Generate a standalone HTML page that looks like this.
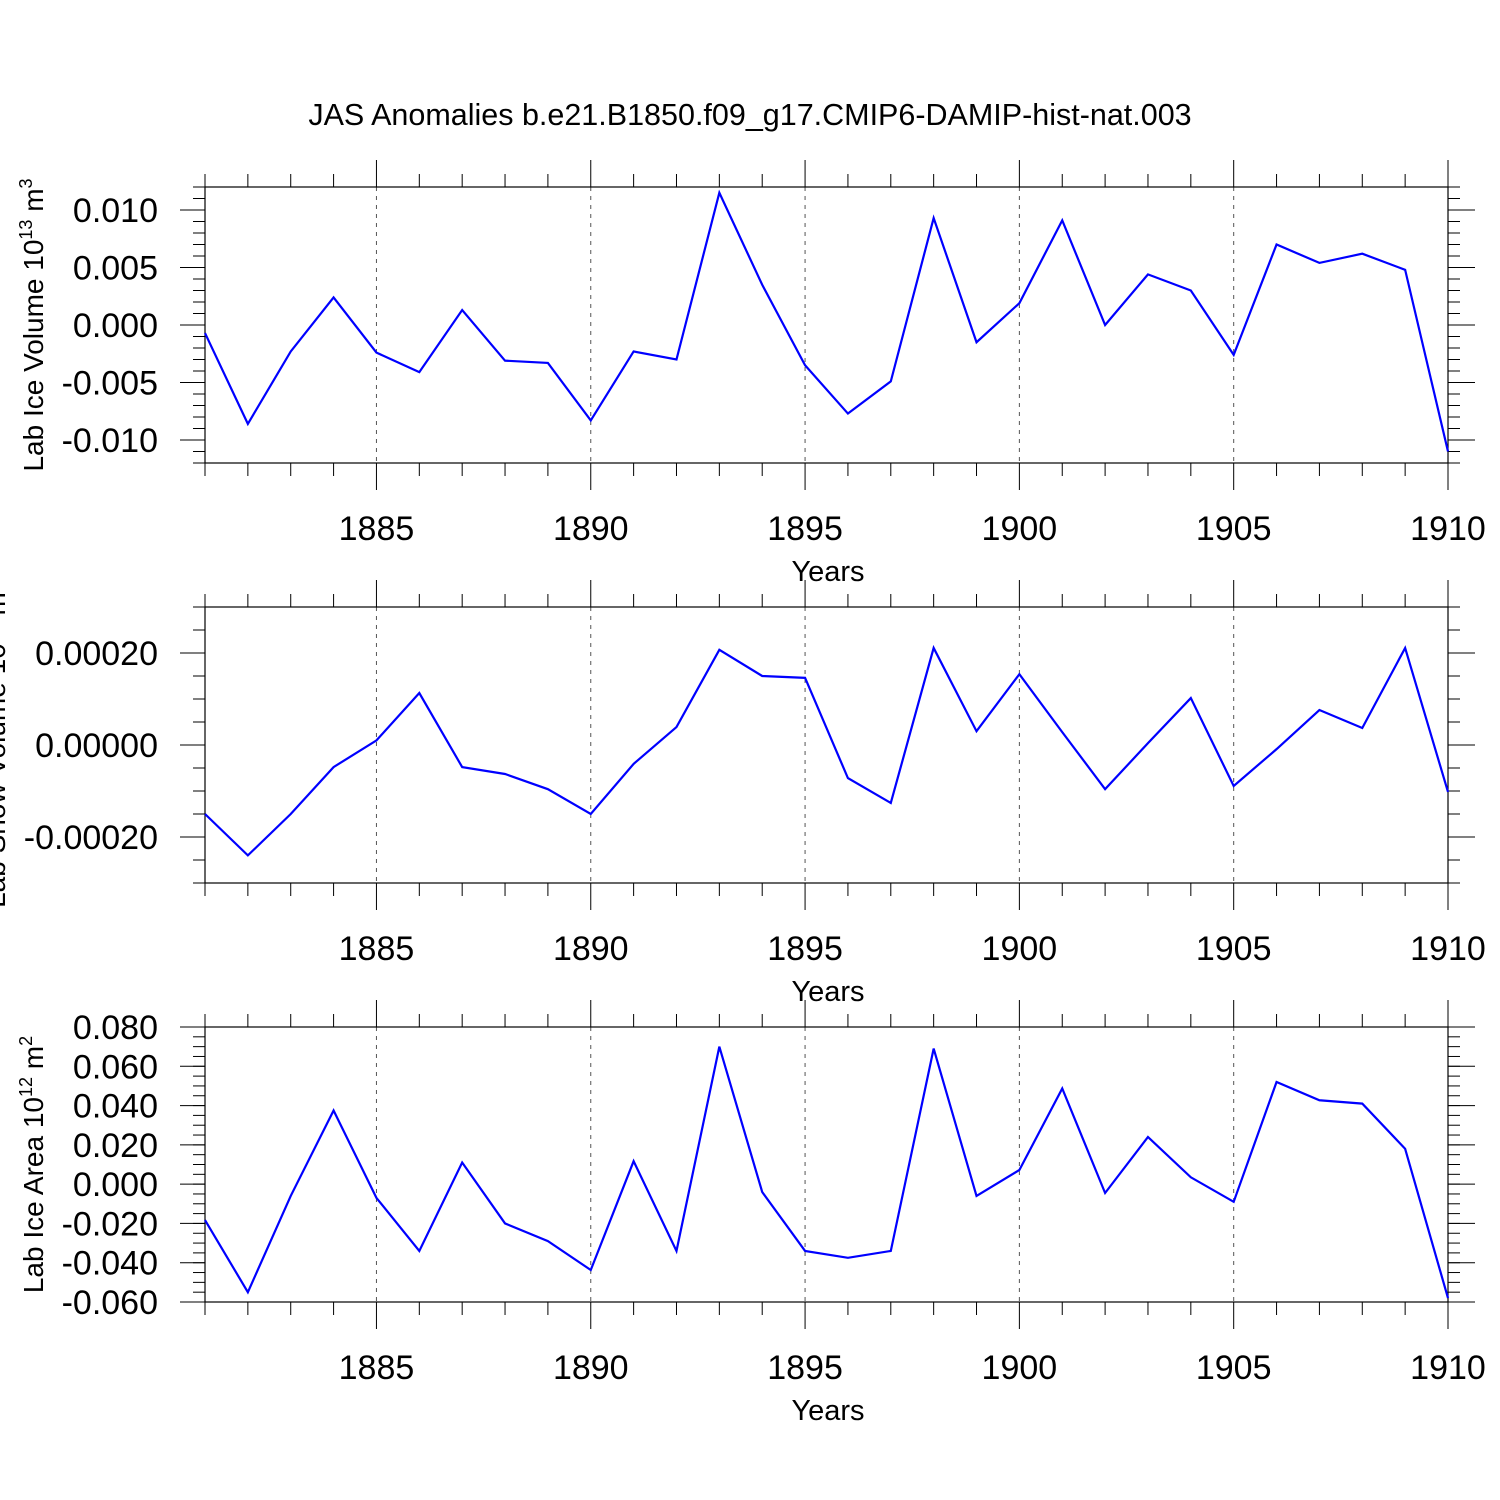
<!DOCTYPE html>
<html><head><meta charset="utf-8"><style>
body{margin:0;background:#fff;}
svg{display:block;font-family:"Liberation Sans",sans-serif;}
</style></head><body>
<svg id="c" width="1500" height="1500" xmlns="http://www.w3.org/2000/svg">
<text x="750" y="125" text-anchor="middle" font-size="30.5">JAS Anomalies b.e21.B1850.f09_g17.CMIP6-DAMIP-hist-nat.003</text>
</svg>
<script>
const years = [1881,1882,1883,1884,1885,1886,1887,1888,1889,1890,1891,1892,1893,1894,1895,1896,1897,1898,1899,1900,1901,1902,1903,1904,1905,1906,1907,1908,1909,1910];
const iceVolume = [-0.0007,-0.0086,-0.0023,0.0024,-0.0024,-0.0041,0.0013,-0.0031,-0.0033,-0.0083,-0.0023,-0.0030,0.0115,0.0035,-0.0035,-0.0077,-0.0049,0.0093,-0.0015,0.0019,0.0091,0.0000,0.0044,0.0030,-0.0026,0.0070,0.0054,0.0062,0.0048,-0.0110];
const snowVolume = [-0.00015,-0.00024,-0.00015,-0.000048,0.00001,0.000113,-0.000048,-0.000063,-0.000096,-0.00015,-0.000041,0.000039,0.000207,0.00015,0.000146,-0.000072,-0.000126,0.000211,0.00003,0.000154,0.000028,-0.000096,0.000004,0.000102,-0.000089,-0.000009,0.000076,0.000037,0.000211,-0.000102];
const iceArea = [-0.0183,-0.055,-0.006,0.0375,-0.007,-0.034,0.011,-0.020,-0.029,-0.0437,0.0117,-0.034,0.070,-0.004,-0.034,-0.0375,-0.034,0.069,-0.006,0.0072,0.0487,-0.0045,0.024,0.0035,-0.009,0.052,0.0427,0.041,0.018,-0.058];
const xTicks = [1885,1890,1895,1900,1905,1910];
const volTicks = [-0.010,-0.005,0.000,0.005,0.010];
const volLabels = ["-0.010","-0.005","0.000","0.005","0.010"];
const snowTicks = [-0.0002,0,0.0002];
const snowLabels = ["-0.00020","0.00000","0.00020"];
const areaTicks = [-0.06,-0.04,-0.02,0,0.02,0.04,0.06,0.08];
const areaLabels = ["-0.060","-0.040","-0.020","0.000","0.020","0.040","0.060","0.080"];

const svg=document.getElementById('c');
const NS='http://www.w3.org/2000/svg';
function mk(t,a,parent){const e=document.createElementNS(NS,t);for(const k in a)e.setAttribute(k,a[k]);(parent||svg).appendChild(e);return e;}
const X0=205,X1=1448,xmin=1881,xmax=1910;
const xs=v=>X0+(v-xmin)/(xmax-xmin)*(X1-X0);

function panel(name,top,bot,ymin,ymax,data,ticks,labels,minorStep,ylabelHtml,labelX){
  const g=mk('g',{});
  
  
  const ys=v=>bot-(v-ymin)/(ymax-ymin)*(bot-top);
  xTicks.forEach(t=>{if(t<xmax){const l=mk('line',{x1:xs(t),x2:xs(t),y1:top,y2:bot,stroke:'#555','stroke-width':1,'stroke-dasharray':'4,5'},g);
  
  }});
  for(let y=xmin;y<=xmax;y++){const maj=y%5===0;const L=maj?27:13;
    mk('line',{x1:xs(y),x2:xs(y),y1:top,y2:top-L,stroke:'#000','stroke-width':1},g);
    mk('line',{x1:xs(y),x2:xs(y),y1:bot,y2:bot+L,stroke:'#000','stroke-width':1},g);}
  const n=Math.round((ymax-ymin)/minorStep);
  for(let i=0;i<=n;i++){const v=ymin+i*minorStep;const y=ys(v);
    mk('line',{x1:X0,x2:X0-12,y1:y,y2:y,stroke:'#000','stroke-width':1},g);
    mk('line',{x1:X1,x2:X1+12,y1:y,y2:y,stroke:'#000','stroke-width':1},g);}
  ticks.forEach((t,i)=>{const y=ys(t);
    mk('line',{x1:X0,x2:X0-25,y1:y,y2:y,stroke:'#000','stroke-width':1},g);
    mk('line',{x1:X1,x2:X1+27,y1:y,y2:y,stroke:'#000','stroke-width':1},g);
    const tx=mk('text',{x:158,y:y+12,'text-anchor':'end','font-size':34},g);tx.textContent=labels[i];
    
    });
  xTicks.forEach(t=>{const tx=mk('text',{x:xs(t),y:bot+77,'text-anchor':'middle','font-size':34},g);tx.textContent=t;
    
    });
  const xt=mk('text',{x:828,y:bot+118,'text-anchor':'middle','font-size':29},g);xt.textContent='Years';
  
  
  const yt=mk('text',{x:0,y:0,'text-anchor':'middle','font-size':28,transform:`translate(${labelX},${(top+bot)/2}) rotate(-90)`},g);
  yt.innerHTML=ylabelHtml;
  
  
  mk('rect',{x:X0,y:top,width:X1-X0,height:bot-top,fill:'none',stroke:'#000','stroke-width':1.2},g);
  const pts=data.map((v,i)=>xs(years[i])+','+ys(v)).join(' ');
  const pl=mk('polyline',{points:pts,fill:'none',stroke:'#0000ff','stroke-width':2.2},g);
  
  
}
panel('ice-volume',187,463,-0.012,0.012,iceVolume,volTicks,volLabels,0.001,'Lab Ice Volume 10<tspan dy="-11" font-size="18">13</tspan><tspan dy="11"> m</tspan><tspan dy="-11" font-size="18">3</tspan>',43);
panel('snow-volume',607,883,-0.0003,0.0003,snowVolume,snowTicks,snowLabels,0.00005,'Lab Snow Volume 10<tspan dy="-11" font-size="18">13</tspan><tspan dy="11"> m</tspan><tspan dy="-11" font-size="18">3</tspan>',5);
panel('ice-area',1027,1302,-0.06,0.08,iceArea,areaTicks,areaLabels,0.005,'Lab Ice Area 10<tspan dy="-11" font-size="18">12</tspan><tspan dy="11"> m</tspan><tspan dy="-11" font-size="18">2</tspan>',43);
</script>
</body></html>
